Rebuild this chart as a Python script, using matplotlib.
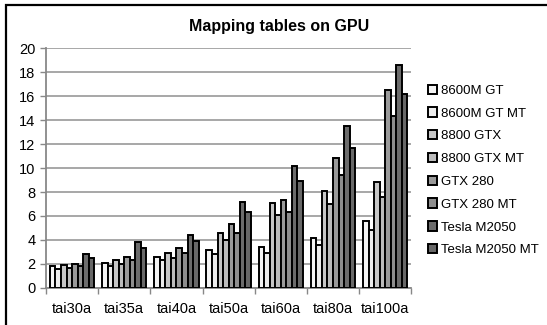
import matplotlib.pyplot as plt
import numpy as np
from matplotlib.patches import Rectangle

plt.rcParams['font.family'] = ['Liberation Sans', 'DejaVu Sans']

instances = ['tai30a', 'tai35a', 'tai40a', 'tai50a', 'tai60a', 'tai80a', 'tai100a']
series_names = ['8600M GT', '8600M GT MT', '8800 GTX', '8800 GTX MT',
                'GTX 280', 'GTX 280 MT', 'Tesla M2050', 'Tesla M2050 MT']

gt8600 = [1.8, 2.1, 2.6, 3.2, 3.4, 4.2, 5.6]
gt8600_mt = [1.6, 1.8, 2.3, 2.8, 2.9, 3.6, 4.8]
gtx8800 = [1.9, 2.3, 2.9, 4.6, 7.1, 8.1, 8.8]
gtx8800_mt = [1.7, 2.0, 2.5, 4.0, 6.1, 7.0, 7.6]
gtx280 = [2.0, 2.6, 3.3, 5.3, 7.3, 10.8, 16.5]
gtx280_mt = [1.8, 2.3, 2.9, 4.6, 6.3, 9.4, 14.3]
tesla = [2.8, 3.8, 4.4, 7.2, 10.2, 13.5, 18.6]
tesla_mt = [2.5, 3.3, 3.9, 6.3, 8.9, 11.7, 16.2]

series = [gt8600, gt8600_mt, gtx8800, gtx8800_mt, gtx280, gtx280_mt, tesla, tesla_mt]
colors = ['#f4f4f4', '#ececec', '#c6c6c6', '#bcbcbc',
          '#9a9a9a', '#8e8e8e', '#6c6c6c', '#686868']

fig = plt.figure(figsize=(5.47, 3.25), dpi=100)
ax = fig.add_axes([0.084, 0.114, 0.668, 0.738])

# outer frame of the chart area
fig.patches.append(Rectangle((0.011, -0.05), 1.05, 1.035, transform=fig.transFigure,
                             fill=False, edgecolor='black', linewidth=1.6))

x = np.arange(len(instances))
n = len(series)
width = 0.85 / n
for i, (vals, name, c) in enumerate(zip(series, series_names, colors)):
    ax.bar(x - 0.425 + width * (i + 0.5), vals, width, color=c,
           edgecolor='black', linewidth=1.4, label=name, zorder=3)

ax.set_xlim(-0.5, len(instances) - 0.5)
ax.set_ylim(0, 20)
ax.set_yticks(range(0, 21, 2))
ax.set_xticks(x)
ax.set_xticklabels(instances)
ax.set_xticks(np.arange(len(instances) + 1) - 0.5, minor=True)
ax.tick_params(axis='x', which='major', length=0, labelsize=10.5, pad=10)
ax.tick_params(axis='x', which='minor', length=4, color='#888888', width=1)
ax.tick_params(axis='y', length=4, color='#888888', width=1, labelsize=10.5)

ax.grid(axis='y', color='#a0a0a0', linewidth=1.3, zorder=0)
for side in ['top', 'right']:
    ax.spines[side].set_visible(False)
for side in ['left', 'bottom']:
    ax.spines[side].set_color('#888888')
    ax.spines[side].set_linewidth(1.3)

fig.text(0.51, 0.92, 'Mapping tables on GPU', ha='center', va='center',
         fontsize=11.5, fontweight='bold')

ax.legend(loc='center left', bbox_to_anchor=(1.02, 0.49), frameon=False,
          fontsize=9.5, handlelength=0.7, handleheight=0.7, handletextpad=0.3,
          labelspacing=0.8, borderaxespad=0.3)

fig.savefig('out.png', dpi=100)
